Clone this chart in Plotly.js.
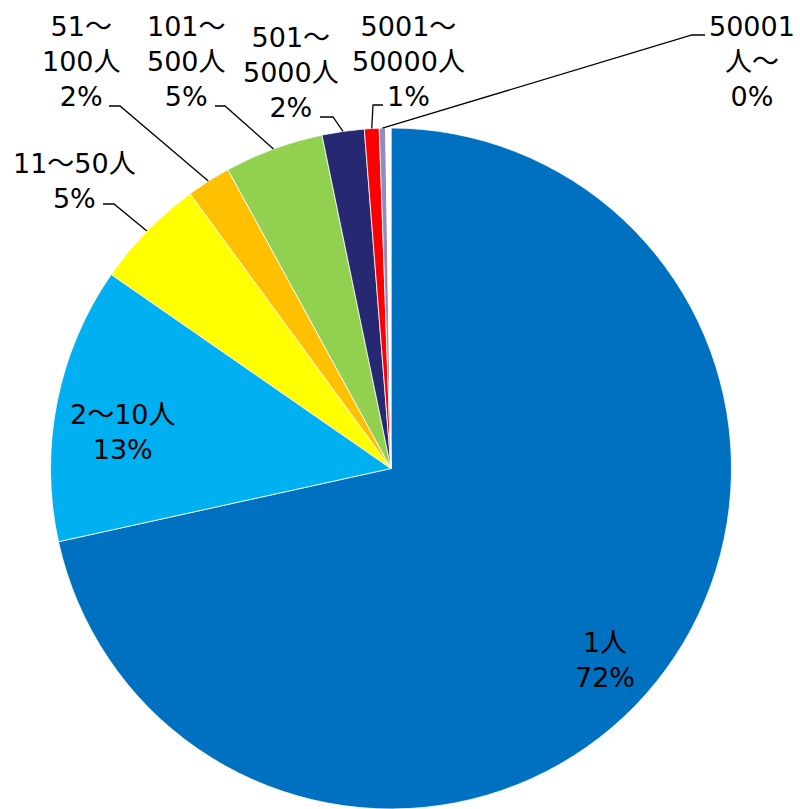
<!DOCTYPE html>
<html>
<head>
<meta charset="utf-8">
<script src="https://cdn.plot.ly/plotly-3.0.1.min.js"></script>
<style>html,body{margin:0;padding:0;background:#fff;}#chart{width:800px;height:809px;}</style>
</head>
<body>
<div id="chart"></div>
<script>
// ---- data ----
const categories = ['1人', '2～10人', '11～50人', '51～100人', '101～500人', '501～5000人', '5001～50000人', '50001人～', ''];
const displayLabels = ['1人', '2～10人', '11～50人', '51～<br>100人', '101～<br>500人', '501～<br>5000人', '5001～<br>50000人', '50001<br>人～', ''];
const values = [71.55, 13.1, 5.3, 2.1, 4.7, 2.0, 0.7, 0.3, 0.25];
const colors = ['#0070C0', '#00B0F0', '#FFFF00', '#FFC000', '#92D050', '#262872', '#FF0000', '#8E8EC0', '#FFFFFF'];

// ---- layout geometry (pixels) ----
const W = 800, H = 809;
const CX = 391, CY = 469, R = 341;
const px = x => x / W;
const py = y => 1 - y / H;

const total = values.reduce((a, b) => a + b, 0);

// label placement (text block centre, pixel coords) and leader-line start points
const labelPos = [
  {x: 605, y: 660},
  {x: 123, y: 432},
  {x: 74, y: 181, lead: [[103, 204], [114, 204]]},
  {x: 81, y: 62, lead: [[109, 106], [120, 106]]},
  {x: 186, y: 62, lead: [[215, 106], [225, 106]]},
  {x: 291, y: 73, lead: [[320, 117], [333, 117]]},
  {x: 408, y: 62, lead: [[383, 105], [373, 105]]},
  {x: 752, y: 62, lead: [[705, 35], [692, 35]]},
  null
];

const font = {family: 'DejaVu Sans, "Noto Sans CJK JP", sans-serif', size: 27, color: '#000'};

const annotations = [];
const shapes = [];
let cum = 0;
values.forEach((v, i) => {
  const mid = (cum + v / 2) / total * 2 * Math.PI; // clockwise from 12 o'clock
  cum += v;
  const lp = labelPos[i];
  if (!lp) return;
  const pct = Math.round(v / total * 100) + '%';
  annotations.push({
    xref: 'paper', yref: 'paper', x: px(lp.x), y: py(lp.y),
    xanchor: 'center', yanchor: 'middle', align: 'center',
    text: displayLabels[i] + '<br>' + pct, showarrow: false, font: font
  });
  if (lp.lead) {
    const ex = CX + R * Math.sin(mid), ey = CY - R * Math.cos(mid);
    const pts = lp.lead.concat([[ex, ey]]);
    const path = pts.map((p, k) => (k ? 'L' : 'M') + px(p[0]) + ',' + py(p[1])).join(' ');
    shapes.push({type: 'path', xref: 'paper', yref: 'paper', path: path, line: {color: '#000', width: 1.3}});
  }
});

const trace = {
  type: 'pie',
  labels: categories,
  values: values,
  sort: false,
  direction: 'clockwise',
  rotation: 0,
  textinfo: 'none',
  hoverinfo: 'label+percent',
  marker: {colors: colors, line: {color: '#FFFFFF', width: 0.8}},
  domain: {x: [px(CX - R), px(CX + R)], y: [Math.max(0, py(CY + R)), py(CY - R)]},
  showlegend: false
};

const layout = {
  width: W, height: H,
  margin: {l: 0, r: 0, t: 0, b: 0},
  paper_bgcolor: '#fff',
  showlegend: false,
  annotations: annotations,
  shapes: shapes
};

Plotly.newPlot('chart', [trace], layout, {displayModeBar: false, staticPlot: true});
</script>
</body>
</html>
